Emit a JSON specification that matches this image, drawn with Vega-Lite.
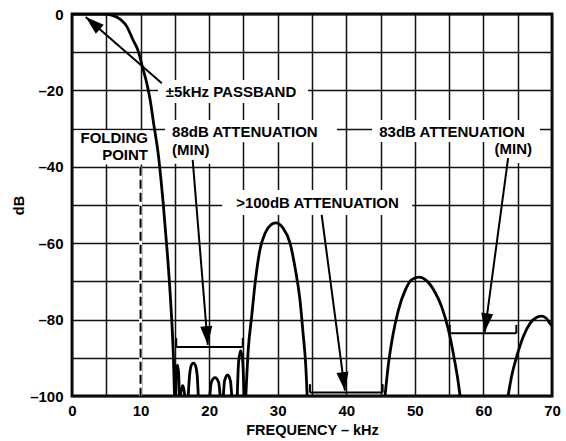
{
  "$schema": "https://vega.github.io/schema/vega-lite/v6.json",
  "width": 480,
  "height": 382,
  "autosize": "none",
  "padding": {"left": 72, "top": 14, "right": 14, "bottom": 45},
  "config": {
    "view": {"stroke": "black", "strokeWidth": 2.8},
    "font": "Liberation Sans",
    "axis": {
      "grid": true, "gridColor": "#111111", "gridWidth": 1.5, "gridOpacity": 1,
      "ticks": false, "tickSize": 0, "domain": false,
      "labelFont": "Liberation Sans", "labelFontSize": 15, "labelFontWeight": "bold", "labelColor": "black",
      "titleFont": "Liberation Sans", "titleFontSize": 14.5, "titleFontWeight": "bold", "titleColor": "black",
      "labelOverlap": false
    }
  },
  "datasets": {
    "curve": [
      {"seg": "main", "kHz": 0, "dB": 0},
      {"seg": "main", "kHz": 5.0, "dB": 0},
      {"seg": "main", "kHz": 5.8, "dB": -0.3},
      {"seg": "main", "kHz": 6.5, "dB": -0.8},
      {"seg": "main", "kHz": 8.0, "dB": -3.3},
      {"seg": "main", "kHz": 8.9, "dB": -6.8},
      {"seg": "main", "kHz": 9.7, "dB": -9.9},
      {"seg": "main", "kHz": 10.2, "dB": -13.4},
      {"seg": "main", "kHz": 10.9, "dB": -18.1},
      {"seg": "main", "kHz": 11.4, "dB": -22.5},
      {"seg": "main", "kHz": 11.9, "dB": -28.6},
      {"seg": "main", "kHz": 12.6, "dB": -37.0},
      {"seg": "main", "kHz": 13.3, "dB": -49.6},
      {"seg": "main", "kHz": 13.9, "dB": -62.6},
      {"seg": "main", "kHz": 14.4, "dB": -75.7},
      {"seg": "main", "kHz": 14.77, "dB": -88.8},
      {"seg": "main", "kHz": 14.95, "dB": -100},
      {"seg": "a", "kHz": 15.12, "dB": -100},
      {"seg": "a", "kHz": 15.2, "dB": -94},
      {"seg": "a", "kHz": 15.37, "dB": -91.9},
      {"seg": "a", "kHz": 15.55, "dB": -94},
      {"seg": "a", "kHz": 15.65, "dB": -100},
      {"seg": "b", "kHz": 15.8, "dB": -100},
      {"seg": "b", "kHz": 15.95, "dB": -98.3},
      {"seg": "b", "kHz": 16.14, "dB": -97.3},
      {"seg": "b", "kHz": 16.32, "dB": -98.3},
      {"seg": "b", "kHz": 16.45, "dB": -100},
      {"seg": "c", "kHz": 16.95, "dB": -100},
      {"seg": "c", "kHz": 17.15, "dB": -94.5},
      {"seg": "c", "kHz": 17.45, "dB": -91.8},
      {"seg": "c", "kHz": 17.7, "dB": -91.4},
      {"seg": "c", "kHz": 17.95, "dB": -91.8},
      {"seg": "c", "kHz": 18.25, "dB": -94.5},
      {"seg": "c", "kHz": 18.42, "dB": -100},
      {"seg": "d", "kHz": 20.1, "dB": -100},
      {"seg": "d", "kHz": 20.3, "dB": -96.5},
      {"seg": "d", "kHz": 20.85, "dB": -95.2},
      {"seg": "d", "kHz": 21.4, "dB": -96.5},
      {"seg": "d", "kHz": 21.6, "dB": -100},
      {"seg": "e", "kHz": 22.07, "dB": -100},
      {"seg": "e", "kHz": 22.25, "dB": -96},
      {"seg": "e", "kHz": 22.7, "dB": -94.5},
      {"seg": "e", "kHz": 23.1, "dB": -96},
      {"seg": "e", "kHz": 23.3, "dB": -100},
      {"seg": "f", "kHz": 24.1, "dB": -100},
      {"seg": "f", "kHz": 24.3, "dB": -91},
      {"seg": "f", "kHz": 24.6, "dB": -88.1},
      {"seg": "f", "kHz": 24.9, "dB": -91},
      {"seg": "f", "kHz": 25.08, "dB": -100},
      {"seg": "l2", "kHz": 25.35, "dB": -100},
      {"seg": "l2", "kHz": 25.7, "dB": -88},
      {"seg": "l2", "kHz": 26.2, "dB": -79.2},
      {"seg": "l2", "kHz": 26.7, "dB": -70.5},
      {"seg": "l2", "kHz": 27.4, "dB": -61.8},
      {"seg": "l2", "kHz": 28.15, "dB": -57.4},
      {"seg": "l2", "kHz": 29.0, "dB": -55.2},
      {"seg": "l2", "kHz": 29.7, "dB": -54.7},
      {"seg": "l2", "kHz": 30.8, "dB": -56.1},
      {"seg": "l2", "kHz": 31.8, "dB": -60},
      {"seg": "l2", "kHz": 32.5, "dB": -66.1},
      {"seg": "l2", "kHz": 33.25, "dB": -74.9},
      {"seg": "l2", "kHz": 33.7, "dB": -83.6},
      {"seg": "l2", "kHz": 34.1, "dB": -92.3},
      {"seg": "l2", "kHz": 34.3, "dB": -100},
      {"seg": "l3", "kHz": 45.65, "dB": -100},
      {"seg": "l3", "kHz": 46.1, "dB": -92.3},
      {"seg": "l3", "kHz": 46.85, "dB": -83.6},
      {"seg": "l3", "kHz": 47.6, "dB": -77.5},
      {"seg": "l3", "kHz": 48.6, "dB": -72.3},
      {"seg": "l3", "kHz": 49.5, "dB": -69.6},
      {"seg": "l3", "kHz": 50.65, "dB": -68.9},
      {"seg": "l3", "kHz": 51.7, "dB": -69.8},
      {"seg": "l3", "kHz": 52.9, "dB": -72.7},
      {"seg": "l3", "kHz": 53.9, "dB": -76.6},
      {"seg": "l3", "kHz": 54.9, "dB": -82.7},
      {"seg": "l3", "kHz": 55.6, "dB": -88.8},
      {"seg": "l3", "kHz": 56.2, "dB": -94.9},
      {"seg": "l3", "kHz": 56.6, "dB": -100},
      {"seg": "l4", "kHz": 63.6, "dB": -100},
      {"seg": "l4", "kHz": 64.1, "dB": -94.9},
      {"seg": "l4", "kHz": 64.85, "dB": -89.7},
      {"seg": "l4", "kHz": 65.8, "dB": -84.5},
      {"seg": "l4", "kHz": 66.8, "dB": -81},
      {"seg": "l4", "kHz": 67.8, "dB": -79.4},
      {"seg": "l4", "kHz": 68.5, "dB": -79.1},
      {"seg": "l4", "kHz": 69.2, "dB": -79.7},
      {"seg": "l4", "kHz": 69.7, "dB": -81},
      {"seg": "l4", "kHz": 70, "dB": -81.6}
    ],
    "boxes": [
      {"kHz": 12.54, "kHz2": 34.42, "dB": -17.3, "dB2": -23.3},
      {"kHz": 0.44, "kHz2": 11.37, "dB": -30.4, "dB2": -39.4},
      {"kHz": 13.56, "kHz2": 38.65, "dB": -27.75, "dB2": -33.6},
      {"kHz": 13.56, "kHz2": 21.3, "dB": -33.0, "dB2": -39.2},
      {"kHz": 43.75, "kHz2": 68.25, "dB": -27.75, "dB2": -33.5},
      {"kHz": 60.67, "kHz2": 68.25, "dB": -33.0, "dB2": -39.0},
      {"kHz": 21.9, "kHz2": 49.6, "dB": -46.1, "dB2": -52.6}
    ],
    "labelsCenter": [
      {"kHz": 23.19, "dB": -20.4, "label": "±5kHz PASSBAND"},
      {"kHz": 35.8, "dB": -49.5, "label": ">100dB ATTENUATION"}
    ],
    "labelsLeft": [
      {"kHz": 14.6, "dB": -30.8, "label": "88dB ATTENUATION"},
      {"kHz": 14.6, "dB": -35.7, "label": "(MIN)"},
      {"kHz": 44.8, "dB": -30.8, "label": "83dB ATTENUATION"}
    ],
    "labelsRight": [
      {"kHz": 11.08, "dB": -32.5, "label": "FOLDING"},
      {"kHz": 11.08, "dB": -36.9, "label": "POINT"},
      {"kHz": 67.08, "dB": -35.4, "label": "(MIN)"}
    ],
    "segs": [
      {"kHz": 13.1, "dB": -18.1, "kHz2": 2.0, "dB2": -0.8},
      {"kHz": 17.6, "dB": -38.2, "kHz2": 19.8, "dB2": -86.6},
      {"kHz": 36.41, "dB": -52.6, "kHz2": 39.8, "dB2": -98.6},
      {"kHz": 63.6, "dB": -37.7, "kHz2": 60.2, "dB2": -83.2},
      {"kHz": 15.2, "dB": -87.2, "kHz2": 24.9, "dB2": -87.2},
      {"kHz": 15.2, "dB": -87.2, "kHz2": 15.2, "dB2": -84.8},
      {"kHz": 24.9, "dB": -87.2, "kHz2": 24.9, "dB2": -84.8},
      {"kHz": 34.7, "dB": -99.1, "kHz2": 45.3, "dB2": -99.1},
      {"kHz": 34.7, "dB": -99.1, "kHz2": 34.7, "dB2": -96.9},
      {"kHz": 45.3, "dB": -99.1, "kHz2": 45.3, "dB2": -96.9},
      {"kHz": 55.1, "dB": -83.6, "kHz2": 64.8, "dB2": -83.6},
      {"kHz": 55.1, "dB": -83.6, "kHz2": 55.1, "dB2": -81.4},
      {"kHz": 64.8, "dB": -83.6, "kHz2": 64.8, "dB2": -81.4}
    ],
    "heads": [
      {"arrow": "passband", "kHz": 2.0, "dB": -0.8},
      {"arrow": "88", "kHz": 19.8, "dB": -86.6},
      {"arrow": "100", "kHz": 39.8, "dB": -98.6},
      {"arrow": "83", "kHz": 60.2, "dB": -83.2}
    ],
    "fold": [
      {"kHz": 10, "dB": -40, "kHz2": 10, "dB2": -100}
    ]
  },
  "encoding": {
    "x": {
      "field": "kHz", "type": "quantitative",
      "scale": {"domain": [0, 70], "nice": false, "zero": false},
      "axis": {
        "values": [0, 5, 10, 15, 20, 25, 30, 35, 40, 45, 50, 55, 60, 65, 70],
        "labelExpr": "datum.value % 10 === 0 ? datum.label : ''",
        "labelFlush": false, "labelPadding": 7,
        "title": "FREQUENCY – kHz", "titlePadding": 5
      }
    },
    "y": {
      "field": "dB", "type": "quantitative",
      "scale": {"domain": [-100, 0], "nice": false, "zero": false},
      "axis": {
        "values": [0, -10, -20, -30, -40, -50, -60, -70, -80, -90, -100],
        "labelExpr": "datum.value === 0 ? '0' : (datum.value % 20 === 0 ? '–' + abs(datum.value) : '')",
        "labelPadding": 9,
        "title": "dB", "titlePadding": 3
      }
    }
  },
  "layer": [
    {
      "data": {"name": "boxes"},
      "mark": {"type": "rect", "fill": "white", "stroke": null},
      "encoding": {"x2": {"field": "kHz2"}, "y2": {"field": "dB2"}}
    },
    {
      "data": {"name": "fold"},
      "mark": {"type": "rule", "color": "white", "strokeWidth": 3},
      "encoding": {"y2": {"field": "dB2"}}
    },
    {
      "data": {"name": "fold"},
      "mark": {"type": "rule", "color": "black", "strokeWidth": 2, "strokeDash": [9, 4]},
      "encoding": {"y2": {"field": "dB2"}}
    },
    {
      "data": {"name": "curve"},
      "mark": {"type": "line", "color": "black", "strokeWidth": 2.8, "interpolate": "monotone", "clip": true},
      "encoding": {"detail": {"field": "seg", "type": "nominal"}}
    },
    {
      "data": {"name": "segs"},
      "mark": {"type": "rule", "color": "black", "strokeWidth": 2},
      "encoding": {"x2": {"field": "kHz2"}, "y2": {"field": "dB2"}}
    },
    {
      "data": {"name": "heads"},
      "transform": [{"filter": "datum.arrow === 'passband'"}],
      "mark": {"type": "point", "shape": "M0,0L0.55,1.7L-0.55,1.7Z", "filled": true, "color": "black", "size": 480, "opacity": 1, "strokeWidth": 0, "angle": -49}
    },
    {
      "data": {"name": "heads"},
      "transform": [{"filter": "datum.arrow === '88'"}],
      "mark": {"type": "point", "shape": "M0,0L0.55,1.7L-0.55,1.7Z", "filled": true, "color": "black", "size": 480, "opacity": 1, "strokeWidth": 0, "angle": 175.4}
    },
    {
      "data": {"name": "heads"},
      "transform": [{"filter": "datum.arrow === '100'"}],
      "mark": {"type": "point", "shape": "M0,0L0.55,1.7L-0.55,1.7Z", "filled": true, "color": "black", "size": 480, "opacity": 1, "strokeWidth": 0, "angle": 172.5}
    },
    {
      "data": {"name": "heads"},
      "transform": [{"filter": "datum.arrow === '83'"}],
      "mark": {"type": "point", "shape": "M0,0L0.55,1.7L-0.55,1.7Z", "filled": true, "color": "black", "size": 480, "opacity": 1, "strokeWidth": 0, "angle": -172.5}
    },
    {
      "data": {"name": "labelsCenter"},
      "mark": {"type": "text", "align": "center", "baseline": "middle", "font": "Liberation Sans", "fontWeight": "bold", "fontSize": 15, "color": "black"},
      "encoding": {"text": {"field": "label"}}
    },
    {
      "data": {"name": "labelsLeft"},
      "mark": {"type": "text", "align": "left", "baseline": "middle", "font": "Liberation Sans", "fontWeight": "bold", "fontSize": 15, "color": "black"},
      "encoding": {"text": {"field": "label"}}
    },
    {
      "data": {"name": "labelsRight"},
      "mark": {"type": "text", "align": "right", "baseline": "middle", "font": "Liberation Sans", "fontWeight": "bold", "fontSize": 15, "color": "black"},
      "encoding": {"text": {"field": "label"}}
    }
  ]
}
